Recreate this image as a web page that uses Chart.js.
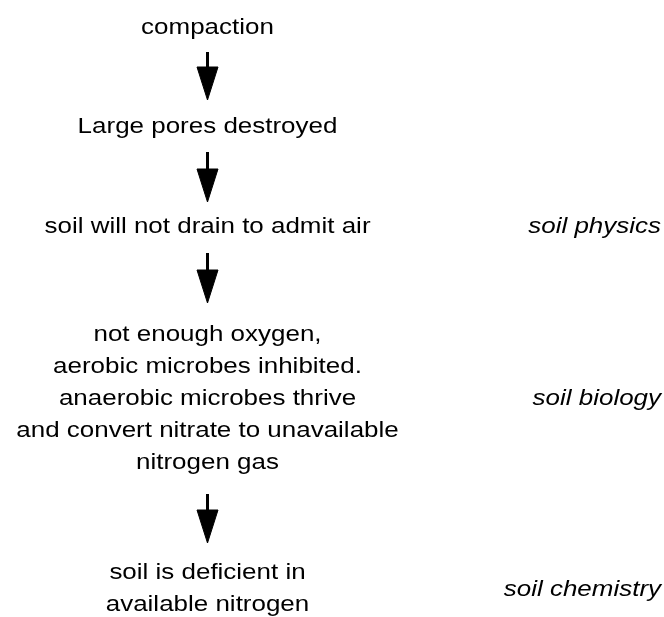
<!DOCTYPE html>
<html>
<head>
<meta charset="utf-8">
<script src="https://cdn.jsdelivr.net/npm/chart.js@4/dist/chart.umd.min.js"></script>
<style>
    html, body { margin: 0; padding: 0; background: #fff; }
    #chart { display: block; }
</style>
</head>
<body>
<canvas id="chart" width="664" height="617"></canvas>
<script>
// flow steps (centre column), each entry is one box of text
const stepLabels = [
    ["compaction"],
    ["Large pores destroyed"],
    ["soil will not drain to admit air"],
    ["not enough oxygen,", "aerobic microbes inhibited.", "anaerobic microbes thrive", "and convert nitrate to unavailable", "nitrogen gas"],
    ["soil is deficient in", "available nitrogen"],
];
// baseline of the first line of each step
const stepY = [34, 133, 233, 341, 579];

// discipline labels on the right
const domainLabels = ["soil physics", "soil biology", "soil chemistry"];
const domainY = [233, 405, 596];

// arrows between steps
const arrowTop = [52, 152, 253, 494];
const arrowTip = [100, 202, 303, 543];

const COLUMN_X = 207.5;
const DOMAIN_X = 661;
const LINE_HEIGHT = 32;
const HEAD_LENGTH = 33;
const HEAD_HALF_WIDTH = 10.5;
const TEXT_STRETCH = 1.18; // the source lettering is a bit wider than plain Arial
const FONT = "22px 'Liberation Sans', Arial, sans-serif";
const ITALIC_FONT = "italic 22px 'Liberation Sans', Arial, sans-serif";

const shafts = arrowTop.map((top, i) => ({
    type: "scatter",
    showLine: true,
    borderColor: "#000",
    borderWidth: 3,
    pointRadius: 0,
    data: [
        { x: COLUMN_X, y: top },
        { x: COLUMN_X, y: arrowTip[i] - HEAD_LENGTH + 1 },
    ],
}));

const heads = arrowTip.map(tip => ({
    type: "scatter",
    showLine: true,
    borderColor: "#000",
    borderWidth: 1,
    backgroundColor: "#000",
    fill: "shape",
    pointRadius: 0,
    data: [
        { x: COLUMN_X - HEAD_HALF_WIDTH, y: tip - HEAD_LENGTH },
        { x: COLUMN_X + HEAD_HALF_WIDTH, y: tip - HEAD_LENGTH },
        { x: COLUMN_X, y: tip },
        { x: COLUMN_X - HEAD_HALF_WIDTH, y: tip - HEAD_LENGTH },
    ],
}));

function drawStretched(ctx, text, x, y) {
    ctx.save();
    ctx.translate(x, y);
    ctx.scale(TEXT_STRETCH, 1);
    ctx.fillText(text, 0, 0);
    ctx.restore();
}

const textPlugin = {
    id: "flowText",
    afterDatasetsDraw(chart) {
        const { ctx, scales } = chart;
        ctx.save();
        ctx.fillStyle = "#000";
        ctx.textBaseline = "alphabetic";

        ctx.font = FONT;
        ctx.textAlign = "center";
        stepLabels.forEach((lines, i) => {
            lines.forEach((line, j) => {
                drawStretched(
                    ctx,
                    line,
                    scales.x.getPixelForValue(COLUMN_X),
                    scales.y.getPixelForValue(stepY[i] + j * LINE_HEIGHT)
                );
            });
        });

        ctx.font = ITALIC_FONT;
        ctx.textAlign = "right";
        domainLabels.forEach((label, i) => {
            drawStretched(ctx, label, scales.x.getPixelForValue(DOMAIN_X), scales.y.getPixelForValue(domainY[i]));
        });

        ctx.restore();
    },
};

new Chart("chart", {
    type: "scatter",
    data: {
        datasets: [...shafts, ...heads],
    },
    options: {
        responsive: false,
        animation: false,
        layout: { padding: 0 },
        plugins: {
            legend: { display: false },
            tooltip: { enabled: false },
        },
        scales: {
            x: { type: "linear", min: 0, max: 664, display: false },
            y: { type: "linear", min: 0, max: 617, reverse: true, display: false },
        },
    },
    plugins: [textPlugin],
});
</script>
</body>
</html>
